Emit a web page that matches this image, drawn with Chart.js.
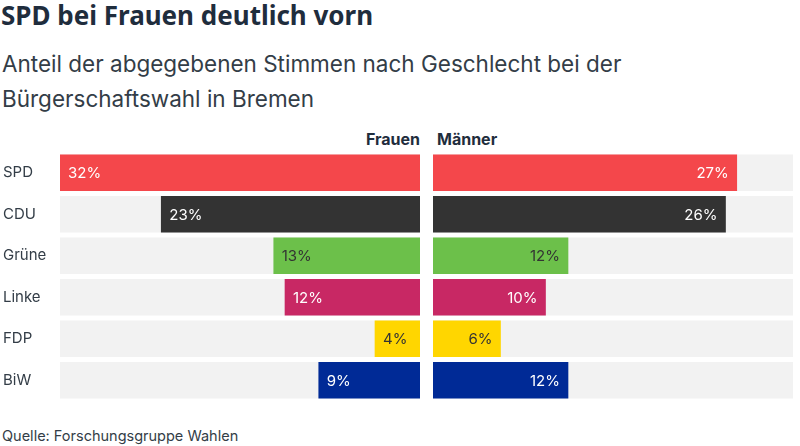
<!DOCTYPE html>
<html>
<head>
<meta charset="utf-8">
<script src="https://cdn.jsdelivr.net/npm/chart.js@4.4.1/dist/chart.umd.min.js"></script>
<style>
  html, body { margin: 0; padding: 0; background: #fff; }
  body { width: 800px; height: 446px; position: relative; overflow: hidden; font-family: Inter, "Noto Sans", sans-serif; }
  div { white-space: nowrap; }
  #title { position: absolute; left: 1px; top: -1px; font-family: "Noto Sans", sans-serif; font-weight: 700; font-size: 26px; line-height: 32px; color: #1f2d3d; }
  #subtitle { position: absolute; left: 2px; top: 47px; font-size: 22.5px; line-height: 34.5px; color: #333d47; }
  .head { position: absolute; top: 129px; font-weight: 700; font-size: 16px; line-height: 20px; color: #1f2d3d; }
  #hf { right: 380px; }
  #hm { left: 437px; }
  #source { position: absolute; left: 2px; top: 427px; font-size: 14.5px; line-height: 18px; color: #333d47; }
  #cl { position: absolute; left: 0; top: 140px; }
  #cr { position: absolute; left: 433px; top: 140px; }
</style>
</head>
<body>
<div id="title">SPD bei Frauen deutlich vorn</div>
<div id="subtitle">Anteil der abgegebenen Stimmen nach Geschlecht bei der<br>Bürgerschaftswahl in Bremen</div>
<div class="head" id="hf">Frauen</div>
<div class="head" id="hm">Männer</div>
<div id="source">Quelle: Forschungsgruppe Wahlen</div>
<canvas id="cl" width="420" height="272"></canvas>
<canvas id="cr" width="367" height="272"></canvas>
<script>
const parties = ["SPD", "CDU", "Grüne", "Linke", "FDP", "BiW"];
const frauen = [32, 23, 13, 12, 4, 9];
const maenner = [27, 26, 12, 10, 6, 12];
const partyColors = ["#f4474b", "#333333", "#6cc04a", "#c82864", "#ffd600", "#002a96"];
const labelColors = ["#ffffff", "#ffffff", "#333333", "#ffffff", "#333333", "#ffffff"];
const scaleMax = 32;
const backgroundValues = parties.map(() => scaleMax);

const valueLabels = {
  id: 'valueLabels',
  afterDatasetsDraw(chart, args, opts) {
    const ctx = chart.ctx;
    const meta = chart.getDatasetMeta(0);
    ctx.save();
    ctx.font = '15px Inter, "Noto Sans", sans-serif';
    ctx.textBaseline = 'middle';
    meta.data.forEach((bar, i) => {
      const v = chart.data.datasets[0].data[i];
      ctx.fillStyle = labelColors[i];
      if (opts.side === 'left') {
        ctx.textAlign = 'left';
        ctx.fillText(v + '%', bar.x + 8, bar.y + 1);
      } else {
        ctx.textAlign = 'right';
        ctx.fillText(v + '%', bar.x - 8, bar.y + 1);
      }
    });
    ctx.restore();
  }
};

function makeChart(id, values, side) {
  const isLeft = side === 'left';
  const yScale = {
    display: isLeft,
    grid: { display: false },
    border: { display: false },
    ticks: { crossAlign: 'far', color: '#333d47', font: { family: 'Inter, "Noto Sans", sans-serif', size: 15 }, padding: 0 }
  };
  if (isLeft) yScale.afterFit = (scale) => { scale.width = 57; };
  return new Chart(document.getElementById(id), {
    type: 'bar',
    data: {
      labels: parties,
      datasets: [
        { data: values, backgroundColor: partyColors, barThickness: 36, grouped: false, order: 1 },
        { data: backgroundValues, backgroundColor: '#f2f2f2', barThickness: 36, grouped: false, order: 2 }
      ]
    },
    options: {
      indexAxis: 'y',
      responsive: false,
      animation: false,
      layout: { padding: { left: isLeft ? 3 : 0, right: isLeft ? 0 : 7, top: 12, bottom: 11 } },
      plugins: { legend: { display: false }, tooltip: { enabled: false }, valueLabels: { side: side } },
      scales: {
        x: { min: 0, max: scaleMax, reverse: isLeft, display: false },
        y: yScale
      }
    },
    plugins: [valueLabels]
  });
}
makeChart('cl', frauen, 'left');
makeChart('cr', maenner, 'right');
</script>
</body>
</html>
